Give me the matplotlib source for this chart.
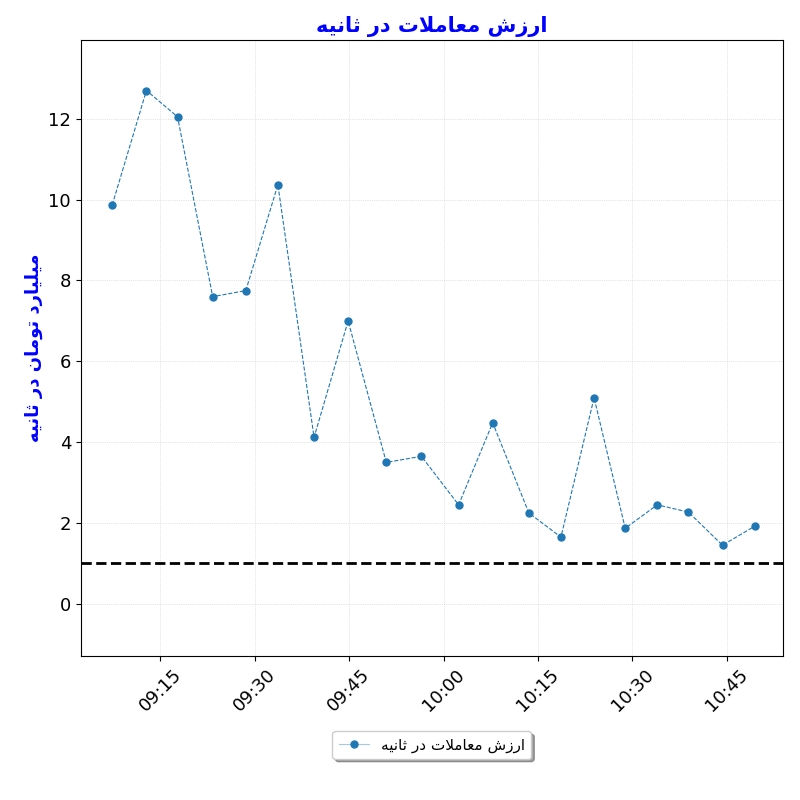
import matplotlib
matplotlib.use("Agg")
import matplotlib.pyplot as plt
import matplotlib.dates as mdates
import pandas as pd

times = ["09:07:20","09:12:46","09:17:43","09:23:18","09:28:34","09:33:40","09:39:25","09:44:50",
         "09:50:54","09:56:29","10:02:24","10:07:49","10:13:34","10:18:40","10:23:56","10:28:53",
         "10:33:59","10:38:56","10:44:21","10:49:27"]
values = [9.87,12.7,12.05,7.6,7.75,10.37,4.12,7.0,3.5,3.65,2.45,4.48,2.25,1.65,5.1,1.87,2.45,2.27,1.45,1.92]
threshold = 1.0
title_text = "ارزش معاملات در ثانیه"
ylabel_text = "میلیارد تومان در ثانیه"
legend_text = "ارزش معاملات در ثانیه"

FORMS = {
    '\u0627': ('\uFE8D','\uFE8E',None,None),
    '\u0631': ('\uFEAD','\uFEAE',None,None),
    '\u0632': ('\uFEAF','\uFEB0',None,None),
    '\u062F': ('\uFEA9','\uFEAA',None,None),
    '\u0648': ('\uFEED','\uFEEE',None,None),
    '\u0634': ('\uFEB5','\uFEB6','\uFEB7','\uFEB8'),
    '\u0645': ('\uFEE1','\uFEE2','\uFEE3','\uFEE4'),
    '\u0639': ('\uFEC9','\uFECA','\uFECB','\uFECC'),
    '\u0644': ('\uFEDD','\uFEDE','\uFEDF','\uFEE0'),
    '\u062A': ('\uFE95','\uFE96','\uFE97','\uFE98'),
    '\u062B': ('\uFE99','\uFE9A','\uFE9B','\uFE9C'),
    '\u0646': ('\uFEE5','\uFEE6','\uFEE7','\uFEE8'),
    '\u06CC': ('\uFBFC','\uFBFD','\uFBFE','\uFBFF'),
    '\u0647': ('\uFEE9','\uFEEA','\uFEEB','\uFEEC'),
}

def shape(text):
    out = []
    for word in text.split(' '):
        chars = list(word)
        merged = []
        i = 0
        while i < len(chars):
            if chars[i] == '\u0644' and i + 1 < len(chars) and chars[i+1] == '\u0627':
                merged.append('LA'); i += 2
            else:
                merged.append(chars[i]); i += 1
        res = []
        for k, c in enumerate(merged):
            prev = merged[k-1] if k > 0 else None
            joins_prev = prev is not None and (prev != 'LA') and FORMS.get(prev, (0,0,None))[2] is not None
            if c == 'LA':
                res.append('\uFEFC' if joins_prev else '\uFEFB')
                continue
            f = FORMS.get(c)
            if f is None:
                res.append(c); continue
            nxt = merged[k+1] if k + 1 < len(merged) else None
            joins_next = nxt is not None and f[2] is not None
            if joins_prev and joins_next: res.append(f[3])
            elif joins_prev: res.append(f[1])
            elif joins_next: res.append(f[2])
            else: res.append(f[0])
        out.append(''.join(res)[::-1])
    return ' '.join(out[::-1])

plt.rcParams['font.family'] = ['DejaVu Sans']
x = pd.to_datetime(["2024-01-01 " + t for t in times])

fig, ax = plt.subplots(figsize=(8, 8), dpi=100)
fig.subplots_adjust(left=0.101, right=0.979, top=0.95, bottom=0.18)
ax.plot(x, values, '--', marker='o', color='#1f77b4', lw=0.8, ms=5)
ax.plot([], [], '-', marker='o', color='#1f77b4', lw=0.8, ms=5, mfc='#1f77b4',
        label=shape(legend_text))
ax.get_lines()[-1].set_color('#a6c8e4'); ax.get_lines()[-1].set_markerfacecolor('#1f77b4'); ax.get_lines()[-1].set_markeredgecolor('#1f77b4')
ax.axhline(threshold, color='black', ls='--', lw=2)
ax.set_ylim(-1.29, 13.95)
ax.set_xlim(pd.Timestamp("2024-01-01 09:02:20"), pd.Timestamp("2024-01-01 10:54:00"))
ax.xaxis.set_major_locator(mdates.MinuteLocator(byminute=[0, 15, 30, 45]))
ax.xaxis.set_major_formatter(mdates.DateFormatter('%H:%M'))
ax.tick_params(axis='both', labelsize=13)
plt.setp(ax.get_xticklabels(), rotation=45)
ax.grid(True, ls=':', lw=0.5, color='#cccccc')
ax.set_title(shape(title_text), color='blue', fontsize=15, fontweight='bold')
ax.set_ylabel(shape(ylabel_text), color='blue', fontsize=13, fontweight='bold')
ax.legend(loc='upper center', bbox_to_anchor=(0.5, -0.11), shadow=True, fontsize=11)
fig.savefig("out.png")
